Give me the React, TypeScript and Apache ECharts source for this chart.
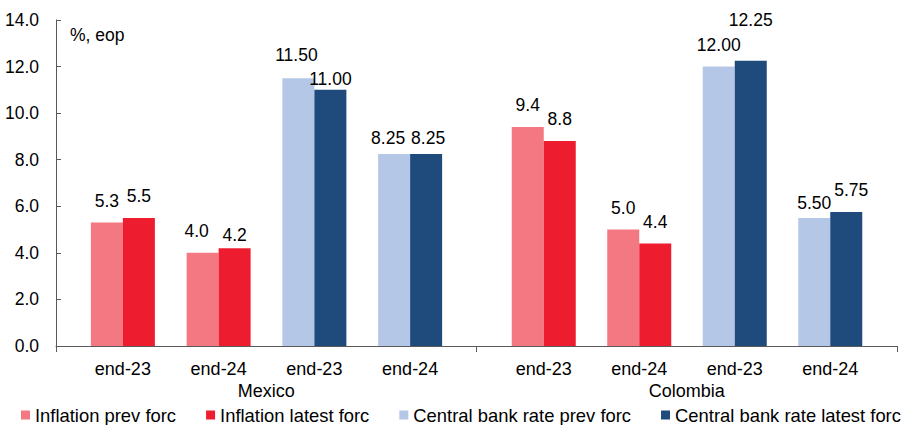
import React, { useEffect, useRef } from "react";
import * as echarts from "echarts";

// Country groups and the forecast horizons shown under each
const countries = ["Mexico", "Colombia"];
const periods = ["end-23", "end-24", "end-23", "end-24"];

const seriesNames = [
  "Inflation prev forc",
  "Inflation latest forc",
  "Central bank rate prev forc",
  "Central bank rate latest forc",
];

// Values per country (Mexico, Colombia), each as [end-23, end-24]
const inflationPrev = [
  [5.3, 4.0],
  [9.4, 5.0],
];
const inflationLatest = [
  [5.5, 4.2],
  [8.8, 4.4],
];
const policyRatePrev = [
  [11.5, 8.25],
  [12.0, 5.5],
];
const policyRateLatest = [
  [11.0, 8.25],
  [12.25, 5.75],
];

const yMin = 0;
const yMax = 14;
const yStep = 2;

const colors = ["#F37882", "#EE1C2F", "#B4C7E7", "#1F4A7C"];
const FONT = "'Liberation Sans', Arial, Helvetica, sans-serif";
const TEXT = "#000000";
const AXIS = "#595959";

// Hand-placed label nudges [dx, dy] keyed by series-country-period
const labelNudge: Record<string, [number, number]> = {
  "0-0-1": [-6, 0],
  "1-0-1": [0, 9],
  "2-0-0": [-2, -1],
  "3-0-0": [0, 11],
  "2-0-1": [-6, 6],
  "3-0-1": [2, 6],
  "3-1-0": [0, -19],
  "2-1-1": [0, 7],
  "3-1-1": [5, 0],
};

function buildSeries() {
  const sets = [inflationPrev, inflationLatest, policyRatePrev, policyRateLatest];
  const out: any[] = [];
  countries.forEach((_, c) => {
    sets.forEach((set, s) => {
      const isRate = s >= 2;
      const slot = s % 2 === 0 ? "prev" : "latest";
      const data: any[] = [];
      periods.forEach((_p, k) => {
        const inGroup = isRate ? k >= 2 : k < 2;
        if (!inGroup) {
          data.push("-");
          return;
        }
        const pi = k % 2;
        const item: any = { value: set[c][pi] };
        const nudge = labelNudge[`${s}-${c}-${pi}`];
        if (nudge) item.label = { offset: nudge };
        data.push(item);
      });
      out.push({
        name: seriesNames[s],
        type: "bar",
        xAxisIndex: c + 1,
        yAxisIndex: c + 1,
        stack: `${slot}-${c}`,
        barWidth: 32,
        barGap: "0%",
        itemStyle: { color: colors[s] },
        label: {
          show: true,
          position: "top",
          distance: 13,
          fontFamily: FONT,
          fontSize: 17.5,
          color: TEXT,
          formatter: (p: any) => Number(p.value).toFixed(isRate ? 2 : 1),
        },
        data,
      });
    });
  });
  return out;
}

export default function App() {
  const ref = useRef<HTMLDivElement>(null);

  useEffect(() => {
    if (!ref.current) return;
    const chart = echarts.init(ref.current, null, { renderer: "svg" });
    const top = 20;
    const bottom = 79;
    const periodAxis = (gridIndex: number) => ({
      type: "category",
      gridIndex,
      data: periods,
      axisLine: { show: false },
      axisTick: { show: false },
      axisLabel: { margin: 14, fontFamily: FONT, fontSize: 18, color: TEXT },
    });
    const hiddenY = (gridIndex: number) => ({
      type: "value",
      gridIndex,
      min: yMin,
      max: yMax,
      interval: yStep,
      show: false,
      splitLine: { show: false },
    });
    chart.setOption({
      animation: false,
      backgroundColor: "#ffffff",
      textStyle: { fontFamily: FONT },
      grid: [
        { left: 56, right: 9, top, bottom },
        { left: 75, width: 383, top, bottom },
        { left: 496, width: 382, top, bottom },
      ],
      xAxis: [
        {
          type: "category",
          gridIndex: 0,
          data: countries,
          axisLine: { lineStyle: { color: AXIS, width: 1 } },
          axisTick: { show: true, interval: 0, length: 6, lineStyle: { color: AXIS } },
          axisLabel: { margin: 36, fontFamily: FONT, fontSize: 18, color: TEXT },
        },
        periodAxis(1),
        periodAxis(2),
      ],
      yAxis: [
        {
          type: "value",
          gridIndex: 0,
          min: yMin,
          max: yMax,
          interval: yStep,
          axisLine: { show: true, lineStyle: { color: AXIS, width: 1 } },
          axisTick: { show: true, inside: true, length: 5, lineStyle: { color: AXIS } },
          axisLabel: {
            margin: 17,
            fontFamily: FONT,
            fontSize: 17.5,
            color: TEXT,
            formatter: (v: number) => v.toFixed(1),
          },
          splitLine: { show: false },
        },
        hiddenY(1),
        hiddenY(2),
      ],
      legend: {
        data: seriesNames,
        left: 21,
        top: 406,
        padding: 0,
        itemWidth: 9,
        itemHeight: 9,
        itemGap: 30,
        icon: "rect",
        textStyle: { fontFamily: FONT, fontSize: 18.4, color: TEXT },
      },
      graphic: [
        {
          type: "text",
          left: 70,
          top: 26,
          style: { text: "%, eop", fontFamily: FONT, fontSize: 17.5, fill: TEXT },
        },
      ],
      series: buildSeries(),
    });
    return () => chart.dispose();
  }, []);

  return (
    <div
      ref={ref}
      style={{ position: "absolute", left: 0, top: 0, width: 906, height: 425 }}
    />
  );
}
